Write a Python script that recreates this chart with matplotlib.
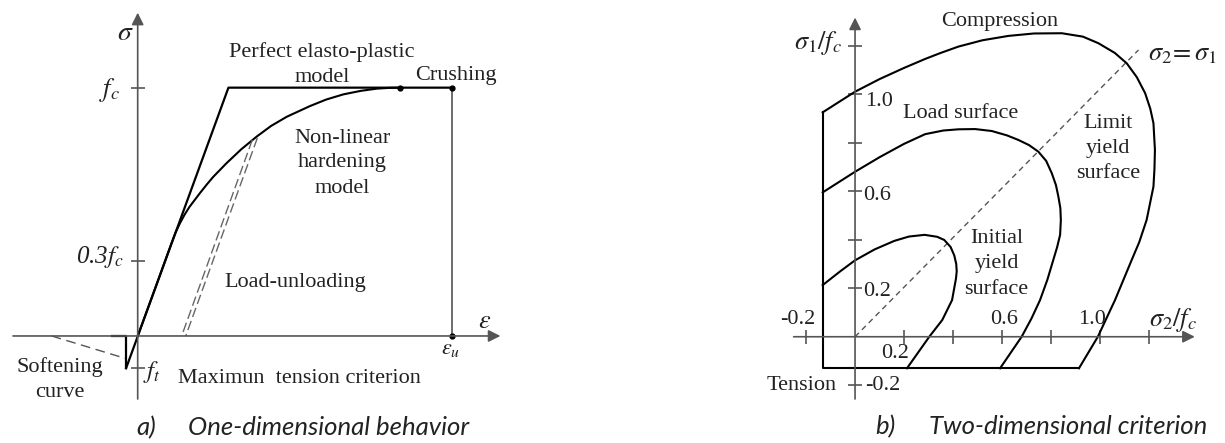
import matplotlib.pyplot as plt

plt.rcParams['mathtext.fontset'] = 'stix'
plt.rcParams['font.family'] = ['Liberation Serif', 'DejaVu Serif']

# ---- a) one-dimensional behaviour (strain / eps_u, stress / fc) ----
eps_hard = [0, 0.055, 0.108, 0.12, 0.135, 0.15, 0.165, 0.18, 0.198, 0.22, 0.24, 0.283,
            0.33, 0.379, 0.425, 0.475, 0.549, 0.6, 0.655, 0.71, 0.761, 0.8, 0.835]
sig_hard = [0, 0.19, 0.375, 0.415, 0.455, 0.49, 0.52, 0.545, 0.575, 0.61, 0.64, 0.696,
            0.752, 0.803, 0.846, 0.883, 0.926, 0.952, 0.973, 0.987, 0.996, 0.999, 1.0]
eps_plastic = [-0.037, 0.289, 1.0]
sig_plastic = [-0.13, 1.0, 1.0]
eps_unload1 = [0.365, 0.14]
sig_unload1 = [0.79, 0.0]
eps_unload2 = [0.381, 0.153]
sig_unload2 = [0.797, 0.0]
eps_soft = [-0.274, -0.04]
sig_soft = [0.0, -0.09]
eps_cut = [-0.083, -0.037, -0.037]
sig_cut = [0.0, 0.0, -0.13]
eps_u = 1.0
f_t = -0.13
sig_ticks = [1.0, 0.3, f_t]
dots_eps = [0.835, 1.0, 1.0]
dots_sig = [1.0, 1.0, 0.0]

# ---- b) two-dimensional criterion (sigma2/fc, sigma1/fc) ----
limit_x = [-0.132, 0, 0.1, 0.2, 0.286, 0.35, 0.422, 0.52, 0.626, 0.73, 0.844, 0.93, 0.993,
           1.06, 1.109, 1.15, 1.184, 1.205, 1.218, 1.224, 1.222, 1.218, 1.19, 1.16, 1.129,
           1.061, 0.991, 0.914]
limit_y = [0.925, 1.01, 1.062, 1.108, 1.145, 1.17, 1.196, 1.222, 1.24, 1.25, 1.251, 1.237, 1.21,
           1.17, 1.127, 1.07, 1.004, 0.94, 0.88, 0.77, 0.69, 0.619, 0.481, 0.39, 0.316,
           0.151, 0.0, -0.13]
load_x = [-0.132, 0, 0.1, 0.2, 0.286, 0.36, 0.422, 0.49, 0.558, 0.62, 0.667, 0.71, 0.748, 0.78,
          0.803, 0.82, 0.83, 0.838, 0.84, 0.837, 0.825, 0.809, 0.785, 0.755, 0.72, 0.68, 0.592]
load_y = [0.595, 0.68, 0.74, 0.795, 0.835, 0.85, 0.855, 0.856, 0.848, 0.83, 0.811, 0.79, 0.763,
          0.725, 0.674, 0.625, 0.577, 0.53, 0.481, 0.42, 0.37, 0.316, 0.235, 0.151, 0.075, 0.0, -0.13]
init_x = [-0.132, -0.06, 0, 0.08, 0.16, 0.22, 0.284, 0.335, 0.364, 0.39, 0.405, 0.413, 0.415,
          0.412, 0.396, 0.356, 0.303, 0.212]
init_y = [0.213, 0.27, 0.315, 0.36, 0.395, 0.413, 0.42, 0.412, 0.399, 0.37, 0.335, 0.3, 0.27,
          0.24, 0.151, 0.069, 0.0, -0.13]
box_x = [0.914, -0.132, -0.132]
box_y = [-0.13, -0.13, 0.925]
diag_x = [0, 1.157]
diag_y = [0, 1.182]
ticks_2d = [-0.2, 0.2, 0.4, 0.6, 0.8, 1.0, 1.2]

AX = '#555555'
TXT = '#222222'
CAP_FONT = ['Lato', 'DejaVu Sans']
CAP_SIZE = 18.5

fig = plt.figure(figsize=(12.25, 4.43), dpi=100)

# left panel
ax1 = fig.add_axes([0, 0, 612 / 1225, 1])
ax1.set_xlim(-0.4385, 1.5105)
ax1.set_ylim(-0.431, 1.353)
ax1.axis('off')

ax1.annotate('', xy=(1.164, 0), xytext=(-0.406, 0),
             arrowprops=dict(arrowstyle='-|>', color=AX, lw=1.2, mutation_scale=18))
ax1.annotate('', xy=(0, 1.313), xytext=(0, -0.265),
             arrowprops=dict(arrowstyle='-|>', color=AX, lw=1.2, mutation_scale=18))
ax1.plot([0] * len(sig_ticks), sig_ticks, ls='none', marker='_', ms=10, mew=1.2, color=AX)
ax1.plot([eps_u, eps_u], [0, 1], color=AX, lw=1.2)

ax1.plot(eps_plastic, sig_plastic, color='black', lw=1.6)
ax1.plot(eps_hard, sig_hard, color='black', lw=1.5)
ax1.plot(eps_unload1, sig_unload1, color='#666666', lw=1, ls=(0, (7, 3)))
ax1.plot(eps_unload2, sig_unload2, color='#666666', lw=1, ls=(0, (7, 3)))
ax1.plot(eps_soft, sig_soft, color='#555555', lw=1, ls=(0, (7, 4)))
ax1.plot(eps_cut, sig_cut, color='black', lw=1.6)
ax1.plot(dots_eps, dots_sig, ls='none', marker='o', ms=3.5, color='black')

ax1.text(-0.04, 1.22, r'$\sigma$', fontsize=20, color=TXT, ha='center', va='center')
ax1.text(-0.056, 0.99, r'$f_c$', fontsize=19, color=TXT, ha='right', va='center')
ax1.text(-0.046, 0.317, '0.3' + r'$f_c$', fontsize=18, style='italic', color=TXT,
         ha='right', va='center')
ax1.text(0.017, -0.144, r'$f_t$', fontsize=18, color=TXT, ha='left', va='center')
ax1.text(1.106, 0.058, r'$\varepsilon$', fontsize=19, color=TXT, ha='center', va='center')
ax1.text(0.997, -0.054, r'$\varepsilon_u$', fontsize=16, color=TXT, ha='center', va='center')

def label(ax, x, y, s, size=16, ha='center', va='baseline'):
    ax.text(x, y, s, fontsize=size, color=TXT, ha=ha, va=va)

label(ax1, 0.587, 1.125, 'Perfect elasto-plastic')
label(ax1, 0.587, 1.024, 'model')
label(ax1, 1.014, 1.031, 'Crushing')
label(ax1, 0.652, 0.778, 'Non-linear')
label(ax1, 0.652, 0.682, 'hardening')
label(ax1, 0.652, 0.575, 'model')
label(ax1, 0.503, 0.199, 'Load-unloading')
label(ax1, 0.514, -0.19, 'Maximun  tension criterion')
label(ax1, -0.247, -0.144, 'Softening')
label(ax1, -0.247, -0.244, 'curve')
ax1.text(-0.003, -0.37, 'a)', fontsize=CAP_SIZE, style='italic', family=CAP_FONT,
         color=TXT, ha='left', va='center')
ax1.text(0.161, -0.37, 'One-dimensional behavior', fontsize=CAP_SIZE, style='italic',
         family=CAP_FONT, color=TXT, ha='left', va='center')

# right panel
ax2 = fig.add_axes([612 / 1225, 0, 613 / 1225, 1])
ax2.set_xlim(-0.992, 1.510)
ax2.set_ylim(-0.438, 1.388)
ax2.axis('off')

ax2.annotate('', xy=(1.398, 0), xytext=(-0.262, 0),
             arrowprops=dict(arrowstyle='-|>', color=AX, lw=1.2, mutation_scale=18))
ax2.annotate('', xy=(0, 1.327), xytext=(0, -0.268),
             arrowprops=dict(arrowstyle='-|>', color=AX, lw=1.2, mutation_scale=18))
ax2.plot([0] * len(ticks_2d), ticks_2d, ls='none', marker='_', ms=10, mew=1.2, color=AX)
ax2.plot(ticks_2d, [0] * len(ticks_2d), ls='none', marker='|', ms=10, mew=1.2, color=AX)

ax2.plot(diag_x, diag_y, color='#555555', lw=1, ls=(0, (4, 3)))
ax2.plot(box_x, box_y, color='black', lw=1.5)
ax2.plot(limit_x, limit_y, color='black', lw=1.5)
ax2.plot(load_x, load_y, color='black', lw=1.5)
ax2.plot(init_x, init_y, color='black', lw=1.5)

ax2.text(-0.053, 1.21, r'$\sigma_1/f_c$', fontsize=19, color=TXT, ha='right', va='center')
ax2.text(1.296, 0.069, r'$\sigma_2/f_c$', fontsize=19, color=TXT, ha='center', va='center')
ax2.text(1.195, 1.162, r'$\sigma_2\!=\sigma_1$', fontsize=19, color=TXT, ha='left', va='center')
for xv, yv, s in [(0.041, 0.969, '1.0'), (0.034, 0.584, '0.6'),
                  (0.034, 0.186, '0.2'), (0.041, -0.199, '-0.2')]:
    ax2.text(xv, yv, s, fontsize=16, color=TXT, ha='left', va='center')
for xv, yv, s in [(-0.233, 0.069, '-0.2'), (0.163, -0.068, '0.2'),
                  (0.61, 0.069, '0.6'), (0.967, 0.069, '1.0')]:
    ax2.text(xv, yv, s, fontsize=16, color=TXT, ha='center', va='center')

ax2.text(-0.218, -0.199, 'Tension', fontsize=16, color=TXT, ha='center', va='center')
ax2.text(0.592, 1.299, 'Compression', fontsize=16, color=TXT, ha='center', va='center')
ax2.text(0.432, 0.921, 'Load surface', fontsize=16, color=TXT, ha='center', va='center')
for yv, s in zip([0.88, 0.777, 0.674], ['Limit', 'yield', 'surface']):
    ax2.text(1.034, yv, s, fontsize=16, color=TXT, ha='center', va='center')
for yv, s in zip([0.406, 0.303, 0.195], ['Initial', 'yield', 'surface']):
    ax2.text(0.578, yv, s, fontsize=16, color=TXT, ha='center', va='center')
ax2.text(0.082, -0.371, 'b)', fontsize=CAP_SIZE, style='italic', family=CAP_FONT,
         color=TXT, ha='left', va='center')
ax2.text(0.3, -0.371, 'Two-dimensional criterion', fontsize=CAP_SIZE, style='italic',
         family=CAP_FONT, color=TXT, ha='left', va='center')

fig.savefig('out.png', dpi=100)
